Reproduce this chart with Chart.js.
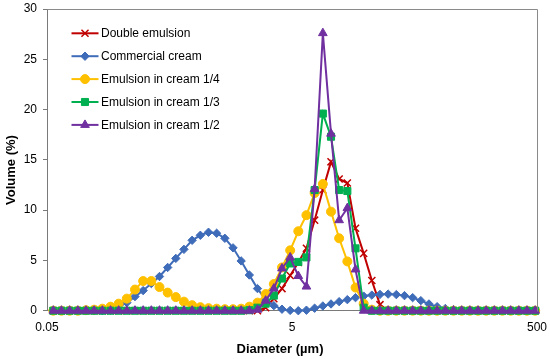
<!DOCTYPE html>
<html><head><meta charset="utf-8">
<script src="https://cdn.jsdelivr.net/npm/chart.js@4"></script>
<style>html,body{margin:0;padding:0;background:#fff}#wrap{width:550px;height:359px;position:relative}</style>
</head><body><div id="wrap"><canvas id="c" width="550" height="359"></canvas></div>
<script>
const diameters = [0.0563,0.0656,0.0765,0.0893,0.1041,0.1213,0.1415,0.165,0.1923,0.2242,0.2613,0.3047,0.3553,0.4142,0.483,0.563,0.656,0.765,0.893,1.041,1.213,1.415,1.65,1.923,2.242,2.613,3.047,3.553,4.142,4.83,5.63,6.56,7.65,8.93,10.41,12.13,14.15,16.5,19.23,22.42,26.13,30.47,35.53,41.42,48.3,56.3,65.6,76.5,89.3,104.1,121.3,141.5,165,192.3,224.2,261.3,304.7,355.3,414.2,483];
const doubleEmulsion = [0,0,0,0,0,0,0,0,0,0,0,0,0,0,0,0,0,0,0,0,0,0,0,0,0,0,0.3,1.2,2.2,3.5,4.8,6.2,9.0,12.0,14.8,13.1,12.7,8.2,5.7,3.0,0.6,0,0,0,0,0,0,0,0,0,0,0,0,0,0,0,0,0,0,0];
const commercialCream = [0,0,0,0,0,0,0,0.05,0.35,0.8,1.4,2.0,2.7,3.4,4.3,5.2,6.1,7.0,7.5,7.8,7.7,7.2,6.25,4.95,3.55,2.2,1.1,0.5,0.15,0.03,0,0.05,0.25,0.47,0.67,0.9,1.1,1.3,1.45,1.55,1.62,1.65,1.6,1.5,1.3,1.0,0.67,0.4,0.22,0.1,0.03,0,0,0,0,0,0,0,0,0];
const creamQuarter = [0,0,0,0,0.05,0.1,0.2,0.4,0.7,1.2,2.1,2.95,2.95,2.35,1.8,1.35,0.9,0.55,0.35,0.25,0.2,0.15,0.15,0.2,0.4,0.8,1.65,2.65,4.3,6.0,7.9,9.5,11.7,12.6,9.85,7.2,4.9,2.3,0.7,0.1,0,0,0,0,0,0,0,0,0,0,0,0,0,0,0,0,0,0,0,0];
const creamThird = [0,0,0,0,0,0,0,0,0,0,0,0,0,0,0,0,0,0,0,0,0,0,0,0,0.05,0.3,0.7,1.5,3.2,4.7,4.85,5.3,12.0,19.6,17.3,12.0,11.9,6.2,0.3,0,0,0,0,0,0,0,0,0,0,0,0,0,0,0,0,0,0,0,0,0];
const creamHalf = [0,0,0,0,0,0,0,0,0,0,0,0,0,0,0,0,0,0,0,0,0,0,0,0,0,0.1,1.0,2.2,4.2,5.3,3.45,2.4,12.1,27.6,17.6,9.0,10.2,4.1,0,0,0,0,0,0,0,0,0,0,0,0,0,0,0,0,0,0,0,0,0,0];
const seriesNames = ['Double emulsion','Commercial cream','Emulsion in cream 1/4','Emulsion in cream 1/3','Emulsion in cream 1/2'];
const xTickValues = [0.05, 5, 500];
const yTickValues = [0, 5, 10, 15, 20, 25, 30];
const xTitle = 'Diameter (\u00b5m)';
const yTitle = 'Volume (%)';

const seriesValues = [doubleEmulsion, commercialCream, creamQuarter, creamThird, creamHalf];
const styles = [
  {color:'#C00000', point:'crossRot', r:5, bw:1.5},
  {color:'#3F6CB8', point:'rectRot', r:4.2, bw:1},
  {color:'#FFC000', point:'circle', r:4.5, bw:1},
  {color:'#00B050', point:'rect', r:5, bw:1},
  {color:'#7030A0', point:'triangle', r:5, bw:1}
];

const FONT = "'Liberation Sans', Arial, sans-serif";
Chart.defaults.font.family = FONT;
Chart.defaults.font.size = 12;
Chart.defaults.color = '#000';

const datasets = seriesValues.map((vals, k) => ({
  label: seriesNames[k],
  data: diameters.map((d, i) => ({x: d, y: vals[i]})),
  borderColor: styles[k].color,
  backgroundColor: styles[k].color,
  pointBackgroundColor: styles[k].color,
  pointBorderColor: styles[k].color,
  pointStyle: styles[k].point,
  pointRadius: styles[k].r,
  pointBorderWidth: styles[k].bw,
  borderWidth: 2,
  tension: 0,
  clip: false,
  order: 4 - k
}));

function drawMarker(ctx, st, x, y) {
  if (Chart.helpers && Chart.helpers.drawPoint) {
    ctx.save();
    ctx.fillStyle = st.color; ctx.strokeStyle = st.color; ctx.lineWidth = st.bw;
    Chart.helpers.drawPoint(ctx, {pointStyle: st.point, radius: st.r, rotation: 0, borderWidth: st.bw}, x, y);
    ctx.restore();
  }
}

const extras = {
  id: 'extras',
  afterDraw(chart) {
    const ctx = chart.ctx, a = chart.chartArea;
    ctx.save();
    ctx.strokeStyle = '#8a8a8a'; ctx.lineWidth = 1;
    ctx.beginPath();
    ctx.moveTo(Math.round(a.left) + 0.5, Math.round(a.top) + 0.5);
    ctx.lineTo(Math.round(a.right) + 0.5, Math.round(a.top) + 0.5);
    ctx.lineTo(Math.round(a.right) + 0.5, Math.round(a.bottom) + 0.5);
    ctx.stroke();
    // legend
    ctx.font = '12px ' + FONT;
    ctx.textBaseline = 'middle'; ctx.textAlign = 'left'; ctx.fillStyle = '#000';
    seriesNames.forEach((name, k) => {
      const y = 33.3 + k * 22.9;
      const st = styles[k];
      ctx.strokeStyle = st.color; ctx.lineWidth = 2;
      ctx.beginPath(); ctx.moveTo(71.5, y); ctx.lineTo(98.5, y); ctx.stroke();
      drawMarker(ctx, st, 85, y);
      ctx.fillStyle = '#000';
      ctx.fillText(name, 101, y + 0.5);
    });
    // axis titles
    ctx.font = 'bold 13px ' + FONT;
    ctx.textAlign = 'center'; ctx.textBaseline = 'middle'; ctx.fillStyle = '#000';
    ctx.fillText(xTitle, 280, 349.5);
    ctx.translate(11, 170); ctx.rotate(-Math.PI / 2);
    ctx.fillText(yTitle, 0, 0);
    ctx.restore();
  }
};

function zeroPad(s) { s.paddingLeft = 0; s.paddingRight = 0; s.paddingTop = 0; s.paddingBottom = 0; }

new Chart(document.getElementById('c'), {
  type: 'line',
  data: {datasets},
  options: {
    responsive: false, animation: false, devicePixelRatio: 1,
    layout: {padding: {left: 0, right: 13, top: 9, bottom: 0}},
    plugins: {legend: {display: false}, tooltip: {enabled: false}},
    scales: {
      x: {
        type: 'logarithmic', min: 0.05, max: 500,
        afterBuildTicks: s => { s.ticks = xTickValues.map(v => ({value: v})); },
        afterFit: s => { s.height = 48.3; zeroPad(s); },
        ticks: {callback: v => String(v), padding: 10, maxRotation: 0, autoSkip: false, font: {size: 12}},
        grid: {display: true, drawOnChartArea: false, drawTicks: false},
        border: {display: true, color: '#7a7a7a', width: 1}
      },
      y: {
        type: 'linear', min: 0, max: 30,
        afterBuildTicks: s => { s.ticks = yTickValues.map(v => ({value: v})); },
        afterFit: s => { s.width = 47; zeroPad(s); },
        ticks: {padding: 6, font: {size: 12}},
        grid: {display: true, drawOnChartArea: false, drawTicks: true, tickLength: 4, color: '#7a7a7a'},
        border: {display: true, color: '#7a7a7a', width: 1}
      }
    }
  },
  plugins: [extras]
});
</script>
</body></html>
